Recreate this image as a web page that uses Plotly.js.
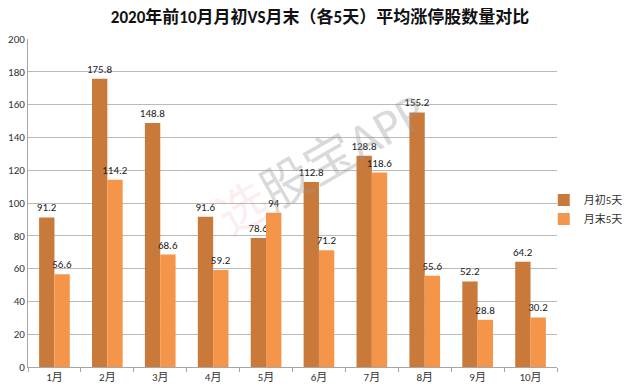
<!DOCTYPE html>
<html><head><meta charset="utf-8">
<script src="https://cdn.plot.ly/plotly-3.0.1.min.js"></script>
<style>body{margin:0;background:#fff}#c{width:640px;height:392px}</style>
</head><body><div id="c"></div>
<script>
const months = ['1月','2月','3月','4月','5月','6月','7月','8月','9月','10月'];
const early = [91.2,175.8,148.8,91.6,78.6,112.8,128.8,155.2,52.2,64.2];
const late = [56.6,114.2,68.6,59.2,94,71.2,118.6,55.6,28.8,30.2];
const seriesNames = ['月初5天','月末5天'];
const font = 'Calibri, "Open Sans", "Noto Sans CJK SC", sans-serif';
const traces = [
 {type:'bar',x:months,y:early,name:seriesNames[0],marker:{color:'#C97A3B'},
  text:early.map(String),textposition:'outside',cliponaxis:false,constraintext:'none',textangle:0,
  textfont:{size:11,color:'#222'}},
 {type:'bar',x:months,y:late,name:seriesNames[1],marker:{color:'#F5954A'},
  text:late.map(String),textposition:'outside',cliponaxis:false,constraintext:'none',textangle:0,
  textfont:{size:11,color:'#222'}}
];
const layout = {
 width:640,height:392,margin:{l:28,r:60,t:39,b:25},
 paper_bgcolor:'#fff',plot_bgcolor:'#fff',
 font:{family:font,size:11,color:'#333'},
 title:{text:'<b>2020年前10月月初VS月末（各5天）平均涨停股数量对比</b>',x:0.5,xanchor:'center',xref:'container',y:0.957,yanchor:'middle',font:{size:17,color:'#111',family:font}},
 barmode:'group',bargap:0.42,bargroupgap:0,
 xaxis:{showline:true,linecolor:'#A6A6A6',ticks:'outside',tickson:'boundaries',ticklen:4,tickcolor:'#A6A6A6',showgrid:false,tickfont:{size:11,color:'#333'}},
 yaxis:{range:[0,200],dtick:20,showline:true,linecolor:'#A6A6A6',gridcolor:'#BABABA',ticks:'',tickfont:{size:11,color:'#333'},zeroline:false},
 legend:{x:0.975,y:0.48,xanchor:'left',yanchor:'middle',font:{size:11,color:'#333'},bgcolor:'rgba(0,0,0,0)',itemwidth:30,tracegroupgap:0},
 showlegend:true,
 annotations:[{text:'<span style="color:rgba(235,130,140,0.4)">选</span>股宝APP',xref:'paper',yref:'paper',x:0.555,y:0.62,showarrow:false,textangle:-30,font:{size:50,color:'rgba(150,150,150,0.35)',family:font}}]
};
Plotly.newPlot('c',traces,layout,{displayModeBar:false,staticPlot:true});
</script></body></html>
